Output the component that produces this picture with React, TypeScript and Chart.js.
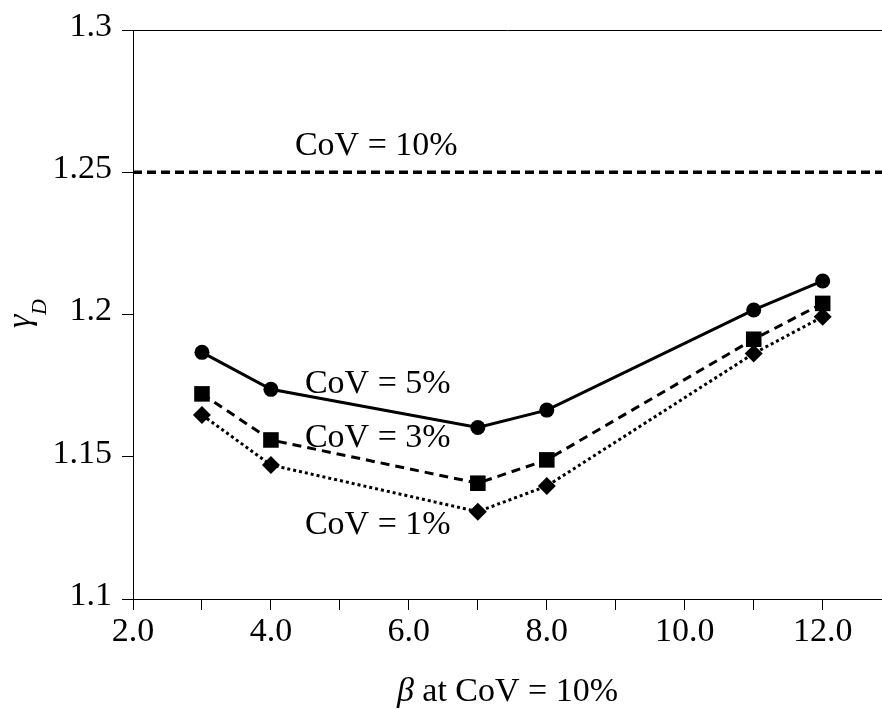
import React, { useEffect, useRef } from 'react';
import { Chart, registerables } from 'chart.js';

Chart.register(...registerables);

// ---- data ----
const betaValues = [3, 4, 7, 8, 11, 12];
const gammaCov5 = [1.1867, 1.1737, 1.1603, 1.1664, 1.2016, 1.2118];
const gammaCov3 = [1.1721, 1.1559, 1.1407, 1.1489, 1.1913, 1.2039];
const gammaCov1 = [1.1647, 1.1471, 1.1307, 1.1397, 1.1863, 1.1992];
const referenceGamma = 1.25; // CoV = 10%

const xMin = 2;
const xMax = 12.86;
const yMin = 1.1;
const yMax = 1.3;
const xTickValues = [2, 3, 4, 5, 6, 7, 8, 9, 10, 11, 12];
const xTickLabels = ['2.0', '', '4.0', '', '6.0', '', '8.0', '', '10.0', '', '12.0'];
const yTickValues = [1.1, 1.15, 1.2, 1.25, 1.3];
const yTickLabels = ['1.1', '1.15', '1.2', '1.25', '1.3'];

const annotationTexts = ['CoV = 10%', 'CoV = 5%', 'CoV = 3%', 'CoV = 1%'];
const annotationX = [4.348, 4.493, 4.493, 4.493];
const annotationY = [1.2561, 1.1724, 1.1534, 1.1228];

const FONT = "'Liberation Serif', 'Times New Roman', serif";

const overlayPlugin = {
  id: 'overlay',
  afterDraw(chart: any) {
    const { ctx, chartArea, scales } = chart;
    ctx.save();
    // top border
    ctx.strokeStyle = '#000';
    ctx.lineWidth = 1;
    ctx.beginPath();
    ctx.moveTo(chartArea.left, chartArea.top + 0.5);
    ctx.lineTo(chartArea.right, chartArea.top + 0.5);
    ctx.stroke();

    // annotations
    ctx.fillStyle = '#000';
    ctx.font = `34px ${FONT}`;
    ctx.textAlign = 'left';
    ctx.textBaseline = 'alphabetic';
    annotationTexts.forEach((t, i) => {
      ctx.fillText(t, scales.x.getPixelForValue(annotationX[i]), scales.y.getPixelForValue(annotationY[i]));
    });

    // x title
    const cx = (chartArea.left + chartArea.right) / 2;
    const by = chartArea.bottom + 102;
    ctx.font = `italic 34px ${FONT}`;
    const wBeta = ctx.measureText('β').width;
    ctx.font = `34px ${FONT}`;
    const rest = ' at CoV = 10%';
    const wRest = ctx.measureText(rest).width;
    const startX = cx - (wBeta + wRest) / 2;
    ctx.font = `italic 34px ${FONT}`;
    ctx.fillText('β', startX, by);
    ctx.font = `34px ${FONT}`;
    ctx.fillText(rest, startX + wBeta, by);

    // y title (rotated)
    const cy = (chartArea.top + chartArea.bottom) / 2;
    ctx.translate(chartArea.left - 103, cy + 13.5);
    ctx.rotate(-Math.PI / 2);
    ctx.font = `italic 34px ${FONT}`;
    ctx.fillText('γ', 0, 0);
    ctx.font = `italic 22px ${FONT}`;
    ctx.fillText('D', 13, 16);
    ctx.restore();
  },
};

export default function App() {
  const canvasRef = useRef<HTMLCanvasElement | null>(null);

  useEffect(() => {
    document.body.style.margin = '0';
    const canvas = canvasRef.current;
    if (!canvas) return;
    const toPoints = (ys: number[]) => betaValues.map((x, i) => ({ x, y: ys[i] }));
    const chart = new Chart(canvas, {
      type: 'line',
      data: {
        datasets: [
          {
            label: 'CoV = 10%',
            data: [{ x: xMin, y: referenceGamma }, { x: xMax, y: referenceGamma }],
            borderColor: '#000',
            borderWidth: 3.5,
            borderDash: [9, 5],
            pointRadius: 0,
          },
          {
            label: 'CoV = 5%',
            data: toPoints(gammaCov5),
            borderColor: '#000',
            backgroundColor: '#000',
            borderWidth: 3,
            pointStyle: 'circle',
            pointRadius: 7.5,
            pointBorderWidth: 0,
          },
          {
            label: 'CoV = 3%',
            data: toPoints(gammaCov3),
            borderColor: '#000',
            backgroundColor: '#000',
            borderWidth: 3,
            borderDash: [9, 6],
            pointStyle: 'rect',
            pointRadius: 11,
            pointBorderWidth: 0,
          },
          {
            label: 'CoV = 1%',
            data: toPoints(gammaCov1),
            borderColor: '#000',
            backgroundColor: '#000',
            borderWidth: 3,
            borderDash: [3, 3],
            pointStyle: 'rectRot',
            pointRadius: 9,
            pointBorderWidth: 0,
          },
        ],
      },
      options: {
        animation: false,
        responsive: false,
        maintainAspectRatio: false,
        layout: { autoPadding: false, padding: { top: 30, right: 0, left: 0, bottom: 0 } },
        plugins: { legend: { display: false }, tooltip: { enabled: false } },
        scales: {
          x: {
            type: 'linear',
            min: xMin,
            max: xMax,
            afterBuildTicks: (scale: any) => {
              scale.ticks = xTickValues.map((v) => ({ value: v }));
            },
            afterFit: (scale: any) => {
              scale.height = 110;
              scale.paddingRight = 0;
              scale.paddingLeft = 0;
            },
            ticks: {
              color: '#000',
              font: { family: FONT, size: 34 },
              padding: 2,
              maxRotation: 0,
              autoSkip: false,
              callback: (_v: any, i: number) => xTickLabels[i],
            },
            grid: { drawOnChartArea: false, color: '#000', tickLength: 11, lineWidth: 1 },
            border: { display: true, color: '#000', width: 1 },
          },
          y: {
            type: 'linear',
            min: yMin,
            max: yMax,
            afterBuildTicks: (scale: any) => {
              scale.ticks = yTickValues.map((v) => ({ value: v }));
            },
            afterFit: (scale: any) => {
              scale.width = 133;
              scale.paddingTop = 0;
              scale.paddingBottom = 0;
            },
            ticks: {
              color: '#000',
              font: { family: FONT, size: 34 },
              padding: 10,
              labelOffset: -3,
              autoSkip: false,
              callback: (_v: any, i: number) => yTickLabels[i],
            },
            grid: { drawOnChartArea: false, color: '#000', tickLength: 11, lineWidth: 1 },
            border: { display: true, color: '#000', width: 1 },
          },
        },
      },
      plugins: [overlayPlugin],
    });
    return () => chart.destroy();
  }, []);

  return (
    <div style={{ width: 882, height: 709 }}>
      <canvas ref={canvasRef} width={882} height={709} style={{ display: 'block' }} />
    </div>
  );
}
